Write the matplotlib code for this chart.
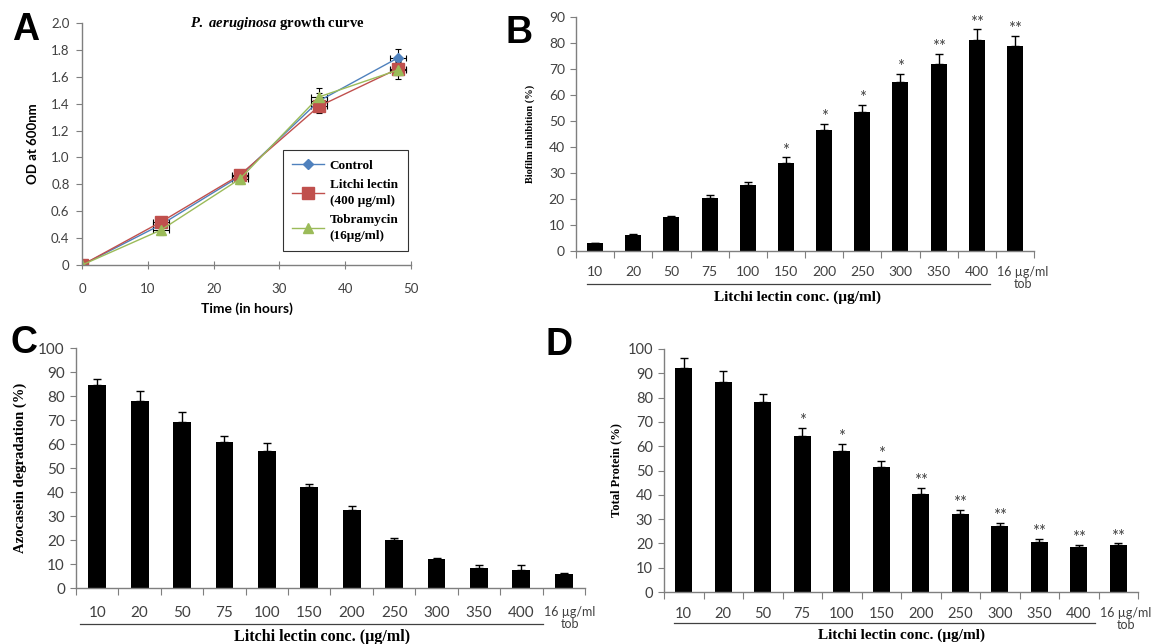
import numpy as np
import matplotlib.pyplot as plt
from matplotlib.lines import Line2D

# Panel A - growth curve (OD at 600 nm)
hours = [0, 12, 24, 36, 48]
od_control = [0.2, 0.50, 0.86, 1.42, 1.74]
od_litchi = [0.2, 0.52, 0.87, 1.38, 1.66]
od_tobra = [0.2, 0.46, 0.84, 1.45, 1.65]
od_control_err = [0, 0.04, 0.04, 0.06, 0.07]
od_litchi_err = [0, 0.03, 0.03, 0.05, 0.05]
od_tobra_err = [0, 0.04, 0.04, 0.07, 0.07]
hours_err = [0, 1.2, 1.2, 1.2, 1.2]
od_ticks = [0.2, 0.4, 0.6, 0.8, 1.0, 1.2, 1.4, 1.6, 1.8, 2.0]
od_ticklabels = ['0', '0.4', '0.6', '0.8', '1.0', '1.2', '1.4', '1.6', '1.8', '2.0']

# Panels B, C, D - bar charts over lectin concentration
conc_labels = ['10', '20', '50', '75', '100', '150', '200', '250', '300',
               '350', '400', '16 µg/ml\ntob']
biofilm = [3, 6, 13, 20.5, 25.5, 34, 46.5, 53.5, 65, 72, 81, 79]
biofilm_err = [0.2, 0.4, 0.3, 1.0, 1.2, 2.0, 2.5, 2.8, 3.2, 3.8, 4.3, 3.8]
biofilm_sig = ['', '', '', '', '', '*', '*', '*', '*', '**', '**', '**']

azocasein = [84.5, 78, 69, 61, 57, 42, 32.5, 20, 12, 8.5, 7.5, 6]
azocasein_err = [2.5, 4, 4.5, 2.5, 3.5, 1.5, 1.5, 1, 0.5, 1, 2, 0.3]

protein = [92, 86.5, 78, 64, 58, 51.5, 40.5, 32, 27, 20.5, 18.5, 19.5]
protein_err = [4.5, 4.5, 3.5, 3.5, 3, 2.5, 2.5, 1.8, 1.5, 1.5, 1, 0.5]
protein_sig = ['', '', '', '*', '*', '*', '**', '**', '**', '**', '**', '**']

SANS = ['Lato', 'DejaVu Sans']
SERIF = ['Liberation Serif', 'DejaVu Serif']
LETTER = ['Liberation Sans', 'DejaVu Sans']
TICK_COLOR = '#404040'
SPINE_COLOR = '#7f7f7f'

plt.rcParams['mathtext.fontset'] = 'custom'
plt.rcParams['mathtext.it'] = 'Liberation Serif:italic:bold'
plt.rcParams['mathtext.rm'] = 'Liberation Serif:bold'

fig = plt.figure(figsize=(11.54, 6.44), dpi=100)
W, H = 1154, 644


def rect(left, right, top, bottom):
    return [left / W, (H - bottom) / H, (right - left) / W, (bottom - top) / H]


def style_axes(ax):
    for side in ['top', 'right']:
        ax.spines[side].set_visible(False)
    for side in ['left', 'bottom']:
        ax.spines[side].set_color(SPINE_COLOR)
        ax.spines[side].set_linewidth(1)


# ---------- Panel A ----------
ax = fig.add_axes(rect(82, 411, 23, 265))
style_axes(ax)
series = [
    (od_control, od_control_err, '#4f81bd', 'D', 5, 'Control'),
    (od_litchi, od_litchi_err, '#c0504d', 's', 8, 'Litchi lectin\n(400 µg/ml)'),
    (od_tobra, od_tobra_err, '#9bbb59', '^', 7, 'Tobramycin\n(16µg/ml)'),
]
handles = []
for vals, errs, col, mk, ms, lab in series:
    ax.errorbar(hours, vals, yerr=errs, xerr=hours_err, color=col, marker=mk,
                markersize=ms, linewidth=1, ecolor='black', elinewidth=0.8,
                capsize=2.5, capthick=0.8)
    handles.append(Line2D([], [], color=col, marker=mk, markersize=ms,
                          linewidth=1, label=lab))
ax.set_xlim(0, 50)
ax.set_ylim(0.2, 2.0)
ax.set_xticks([0, 10, 20, 30, 40, 50])
ax.set_yticks(od_ticks)
ax.set_yticklabels(od_ticklabels)
ax.tick_params(axis='x', direction='inout', length=6, pad=10, color=SPINE_COLOR,
               labelcolor=TICK_COLOR, labelsize=9.5)
ax.tick_params(axis='y', direction='out', length=4, pad=5, color=SPINE_COLOR,
               labelcolor=TICK_COLOR, labelsize=9.5)
for t in ax.get_xticklabels() + ax.get_yticklabels():
    t.set_family(SANS)
ax.text(0.595, 1.0, r'$\it{P.}$ $\it{aeruginosa}$ growth curve',
        transform=ax.transAxes, ha='center', va='center', fontsize=10.5,
        fontweight='bold', family=SERIF)
ax.text(-0.15, 0.5, 'OD at 600nm', transform=ax.transAxes, rotation=90,
        ha='center', va='center', fontsize=9.5, fontweight='bold', family=SANS)
ax.text(0.5, -0.18, 'Time (in hours)', transform=ax.transAxes, ha='center',
        va='center', fontsize=10, fontweight='bold', family=SANS)
leg = ax.legend(handles=handles, loc='upper left', bbox_to_anchor=(0.611, 0.475),
                frameon=True, fancybox=False, edgecolor='black',
                handlelength=2.4, borderaxespad=0,
                prop={'family': SERIF, 'weight': 'bold', 'size': 9.5},
                borderpad=0.7, labelspacing=0.55, handletextpad=0.45)
leg.get_frame().set_linewidth(0.8)
for t in leg.get_texts():
    t.set_linespacing(1.45)
fig.text(12 / W, 1 - 30 / H, 'A', fontsize=27, fontweight='bold', family=LETTER,
         va='center')


def bar_panel(box, vals, errs, sig, ymax, ylabel, ylabel_size, ylabel_x,
              line_x, line_y, xlabel_xy, xlabel_size, label_y, tick_size):
    ax = fig.add_axes(box)
    style_axes(ax)
    x = np.arange(len(vals))
    ax.bar(x, vals, width=0.42, color='black',
           yerr=[np.zeros(len(vals)), errs],
           error_kw=dict(ecolor='black', elinewidth=1, capsize=3, capthick=1))
    ax.set_xlim(-0.5, len(vals) - 0.5)
    ax.set_ylim(0, ymax)
    ax.set_yticks(np.arange(0, ymax + 1, 10))
    ax.set_xticks(np.arange(-0.5, len(vals)))
    ax.set_xticklabels([])
    ax.tick_params(axis='x', direction='out', length=5, color=SPINE_COLOR)
    ax.tick_params(axis='y', direction='out', length=4, pad=4, color=SPINE_COLOR,
                   labelcolor=TICK_COLOR, labelsize=tick_size)
    for t in ax.get_yticklabels():
        t.set_family(SANS)
    tr = ax.get_xaxis_transform()
    for i, lab in zip(x, conc_labels):
        if '\n' in lab:
            # last label starts at the category boundary, like the source
            ax.annotate(lab, (i - 0.5, label_y), xycoords=tr, xytext=(1, 0),
                        textcoords='offset points', ha='left', va='top',
                        multialignment='center', linespacing=1.0,
                        fontsize=9, color=TICK_COLOR, family=SANS,
                        annotation_clip=False)
        else:
            ax.text(i, label_y, lab, transform=tr, ha='center', va='top',
                    fontsize=tick_size, color=TICK_COLOR, family=SANS)
    if sig is not None:
        for i, s in enumerate(sig):
            if s:
                ax.annotate(s, (i, vals[i] + errs[i]), xytext=(0, -1),
                            textcoords='offset points', ha='center',
                            va='bottom', fontsize=12, color=TICK_COLOR,
                            family=SANS)
    ax.plot(line_x, [line_y, line_y], color='#404040', linewidth=0.9,
            transform=tr, clip_on=False)
    ax.text(xlabel_xy[0], xlabel_xy[1], 'Litchi lectin conc. (µg/ml)',
            transform=tr, ha='center', va='center', fontsize=xlabel_size,
            fontweight='bold', family=SERIF)
    ax.text(ylabel_x, 0.5, ylabel, transform=ax.transAxes, rotation=90,
            ha='center', va='center', fontsize=ylabel_size, fontweight='bold',
            family=SERIF)
    return ax


# ---------- Panel B ----------
bar_panel(rect(576, 1034, 17, 251), biofilm, biofilm_err, biofilm_sig, 90,
          'Biofilm inhibition (%)', 7.5, -0.1, [-0.2, 10.35], -0.14,
          (5.3, -0.197), 11, -0.065, 10)
fig.text(505 / W, 1 - 33 / H, 'B', fontsize=27, fontweight='bold',
         family=LETTER, va='center')

# ---------- Panel C ----------
bar_panel(rect(76, 585, 348, 588), azocasein, azocasein_err, None, 100,
          'Azocasein degradation (%)', 10.5, -0.11, [-0.4, 10.5], -0.15,
          (5.3, -0.204), 11.5, -0.075, 11)
fig.text(10 / W, 1 - 343 / H, 'C', fontsize=27, fontweight='bold',
         family=LETTER, va='center')

# ---------- Panel D ----------
bar_panel(rect(664, 1138, 349, 592), protein, protein_err, protein_sig, 100,
          'Total Protein (%)', 9, -0.1, [-0.25, 10.4], -0.128,
          (5.5, -0.177), 11, -0.062, 10.5)
fig.text(545 / W, 1 - 345 / H, 'D', fontsize=27, fontweight='bold',
         family=LETTER, va='center')

fig.savefig('out.png', dpi=100)
